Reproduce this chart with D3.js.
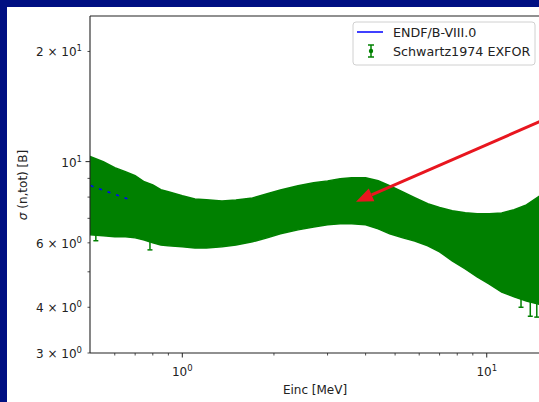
<!DOCTYPE html>
<html>
<head>
<meta charset="utf-8">
<script src="https://cdn.jsdelivr.net/npm/d3@7"></script>
<style>
  html, body { margin: 0; padding: 0; background: #000f82; }
  svg { display: block; }
  text { font-family: "DejaVu Sans", sans-serif; fill: #222; }
</style>
</head>
<body>
<svg id="chart" width="539" height="402"></svg>
<script>
// ---- Data ----
// Schwartz1974 EXFOR: incident energy (MeV), total cross section (b), uncertainty (b)
const exforE = [0.50, 0.55, 0.60, 0.65, 0.70, 0.75, 0.80, 0.85, 0.90, 1.0, 1.1, 1.2, 1.35, 1.5, 1.7, 1.9, 2.1, 2.4, 2.7, 3.0, 3.3, 3.6, 4.0, 4.4, 4.8, 5.3, 5.8, 6.4, 7.0, 7.7, 8.5, 9.3, 10.2, 11.2, 12.3, 13.5, 14.8];
const exforSigma = [8.31, 8.13, 7.93, 7.81, 7.67, 7.46, 7.32, 7.15, 7.08, 6.96, 6.86, 6.84, 6.83, 6.89, 7.00, 7.18, 7.36, 7.55, 7.69, 7.79, 7.87, 7.90, 7.88, 7.71, 7.47, 7.23, 7.02, 6.78, 6.58, 6.35, 6.17, 6.02, 5.92, 5.82, 5.83, 5.89, 6.05];
const exforErr = [2.00, 1.86, 1.70, 1.58, 1.48, 1.35, 1.32, 1.23, 1.19, 1.11, 1.05, 1.03, 0.98, 0.97, 0.96, 0.99, 1.01, 1.04, 1.06, 1.07, 1.11, 1.14, 1.16, 1.16, 1.12, 1.04, 0.95, 0.89, 0.91, 0.99, 1.08, 1.18, 1.29, 1.42, 1.56, 1.73, 1.97];
// individual, more scattered EXFOR points (energy, low, high)
const outlierE = [0.52, 0.783, 12.96, 13.9, 14.6];
const outlierLo = [6.08, 5.74, 4.0, 3.78, 3.76];
const outlierHi = [8.6, 7.9, 7.4, 7.5, 7.8];
// ENDF/B-VIII.0 evaluation
const endfE = [0.5, 0.55, 0.6, 0.65, 0.7, 0.8, 0.9, 1.0, 1.2, 1.5, 2.0, 2.5, 3.0, 3.6, 4.0, 5.0, 6.0, 7.0, 8.0, 9.0, 10.0, 11.0, 12.0, 13.0, 15.0];
const endfSigma = [8.6, 8.35, 8.15, 7.95, 7.8, 7.5, 7.25, 7.05, 6.85, 6.85, 7.1, 7.45, 7.7, 7.85, 7.8, 7.4, 6.95, 6.6, 6.35, 6.15, 6.05, 6.0, 5.95, 5.92, 5.95];
// ticks
const yLabeledTicks = [3, 4, 6, 10, 20];
const yLabelMant = ["3", "4", "6", "", "2"];
const yLabelExp = ["0", "0", "0", "1", "1"];
const yMinorTicks = [3, 4, 5, 6, 7, 8, 9, 20];
const yMajorTicks = [10];
const xMajorTicks = [1, 10];
const xMajorExp = ["0", "1"];
const xMinorTicks = [0.6, 0.7, 0.8, 0.9, 2, 3, 4, 5, 6, 7, 8, 9];
// annotation arrow: tip and tail in data units
const arrowTip = [3.72, 7.77];
const arrowTail = [20, 14.3];
const legendLabels = ["ENDF/B-VIII.0", "Schwartz1974 EXFOR"];

// ---- Layout ----
const svg = d3.select("#chart");
svg.append("rect").attr("x", 7).attr("y", 7).attr("width", 540).attr("height", 400).attr("fill", "#fff");

const L = 90, T = 16, B = 353, R = 540;
const x = d3.scaleLog().domain([0.4975, 14.96]).range([L, R]);
const y = d3.scaleLog().domain([3, 25]).range([B, T]);

const defs = svg.append("defs");
defs.append("clipPath").attr("id", "plotclip").append("rect")
  .attr("x", L).attr("y", T).attr("width", R - L).attr("height", B - T);
defs.append("clipPath").attr("id", "leftclip").append("rect")
  .attr("x", L).attr("y", T).attr("width", x(0.68) - L).attr("height", B - T);

const plot = svg.append("g").attr("clip-path", "url(#plotclip)");

const endfPts = endfE.map((e, i) => [e, endfSigma[i]]);
const lineGen = d3.line().x(d => x(d[0])).y(d => y(d[1]));
plot.append("path").attr("d", lineGen(endfPts))
  .attr("fill", "none").attr("stroke", "#0000ff").attr("stroke-width", 1.5);

const bandPts = exforE.map((e, i) => ({ e, lo: exforSigma[i] - exforErr[i], hi: exforSigma[i] + exforErr[i] }));
plot.append("path")
  .attr("d", d3.area().x(d => x(d.e)).y0(d => y(d.lo)).y1(d => y(d.hi))(bandPts))
  .attr("fill", "#008000").attr("stroke", "#008000").attr("stroke-width", 1.5)
  .attr("stroke-linejoin", "miter");

// scattered error bars
const eb = plot.append("g").attr("stroke", "#008000").attr("stroke-width", 1.5);
outlierE.forEach((e, i) => {
  const cx = x(e);
  eb.append("line").attr("x1", cx).attr("x2", cx).attr("y1", y(outlierLo[i])).attr("y2", y(outlierHi[i]));
  eb.append("line").attr("x1", cx - 2.5).attr("x2", cx + 2.5).attr("y1", y(outlierLo[i])).attr("y2", y(outlierLo[i]));
});

// ENDF peeking through gaps at low energy
svg.append("g").attr("clip-path", "url(#leftclip)")
  .append("path").attr("d", lineGen(endfPts))
  .attr("fill", "none").attr("stroke", "#0000ff").attr("stroke-width", 1.6)
  .attr("stroke-dasharray", "3,6");

// ---- Axes ----
const axisG = svg.append("g");
axisG.append("line").attr("x1", L).attr("x2", L).attr("y1", T).attr("y2", B).attr("stroke", "#222").attr("stroke-width", 1.1);
axisG.append("line").attr("x1", L).attr("x2", R).attr("y1", B).attr("y2", B).attr("stroke", "#222").attr("stroke-width", 1.1);
axisG.append("line").attr("x1", L).attr("x2", R).attr("y1", T).attr("y2", T).attr("stroke", "#222").attr("stroke-width", 1.1);

xMajorTicks.forEach((v, i) => {
  axisG.append("line").attr("x1", x(v)).attr("x2", x(v)).attr("y1", B).attr("y2", B + 4.5).attr("stroke", "#222");
  const t = axisG.append("text").attr("x", x(v)).attr("y", 376).attr("text-anchor", "middle").style("font-size", "12px");
  t.append("tspan").text("10");
  t.append("tspan").attr("dy", -5).style("font-size", "8.5px").text(xMajorExp[i]);
});
xMinorTicks.forEach(v => {
  axisG.append("line").attr("x1", x(v)).attr("x2", x(v)).attr("y1", B).attr("y2", B + 2.5).attr("stroke", "#222").attr("stroke-width", 0.8);
});
yMinorTicks.forEach(v => {
  axisG.append("line").attr("x1", L - 2.5).attr("x2", L).attr("y1", y(v)).attr("y2", y(v)).attr("stroke", "#222").attr("stroke-width", 0.8);
});
yMajorTicks.forEach(v => {
  axisG.append("line").attr("x1", L - 4.5).attr("x2", L).attr("y1", y(v)).attr("y2", y(v)).attr("stroke", "#222");
});
yLabeledTicks.forEach((v, i) => {
  const t = axisG.append("text").attr("x", 82).attr("y", y(v) + 5).attr("text-anchor", "end").style("font-size", "12px");
  t.append("tspan").text(yLabelMant[i] ? yLabelMant[i] + " \u00d7 10" : "10");
  t.append("tspan").attr("dy", -5).style("font-size", "8.5px").text(yLabelExp[i]);
});

svg.append("text").attr("x", 315).attr("y", 394).attr("text-anchor", "middle").style("font-size", "12px").text("Einc [MeV]");
svg.append("text").attr("transform", "translate(27,185) rotate(-90)").attr("text-anchor", "middle").style("font-size", "12px")
  .html('<tspan font-style="italic">\u03c3</tspan> (n,tot) [B]');

// ---- Arrow annotation ----
const tip = [x(arrowTip[0]), y(arrowTip[1])];
const tail = [x(arrowTail[0]), y(arrowTail[1])];
const ang = Math.atan2(tip[1] - tail[1], tip[0] - tail[0]);
const headLen = 17, headHalf = 7;
const base = [tip[0] - headLen * Math.cos(ang), tip[1] - headLen * Math.sin(ang)];
svg.append("line").attr("x1", tail[0]).attr("y1", tail[1]).attr("x2", base[0]).attr("y2", base[1])
  .attr("stroke", "#e8161f").attr("stroke-width", 3);
svg.append("polygon").attr("fill", "#e8161f").attr("points", [
  tip,
  [base[0] + headHalf * Math.sin(ang), base[1] - headHalf * Math.cos(ang)],
  [base[0] - headHalf * Math.sin(ang), base[1] + headHalf * Math.cos(ang)]
].map(p => p.join(",")).join(" "));

// ---- Legend ----
const lg = svg.append("g");
lg.append("rect").attr("x", 353).attr("y", 22).attr("width", 182).attr("height", 43).attr("rx", 3)
  .attr("fill", "#fff").attr("fill-opacity", 0.8).attr("stroke", "#d0d0d0");
lg.append("line").attr("x1", 357).attr("x2", 383).attr("y1", 32).attr("y2", 32).attr("stroke", "#0000ff").attr("stroke-width", 1.5);
lg.append("text").attr("x", 393).attr("y", 32).attr("dy", "0.36em").style("font-size", "12.7px").text(legendLabels[0]);
const ex = 371;
lg.append("line").attr("x1", ex).attr("x2", ex).attr("y1", 45).attr("y2", 57).attr("stroke", "#008000").attr("stroke-width", 1.5);
lg.append("line").attr("x1", ex - 3).attr("x2", ex + 3).attr("y1", 45).attr("y2", 45).attr("stroke", "#008000").attr("stroke-width", 1.5);
lg.append("line").attr("x1", ex - 3).attr("x2", ex + 3).attr("y1", 57).attr("y2", 57).attr("stroke", "#008000").attr("stroke-width", 1.5);
lg.append("circle").attr("cx", ex).attr("cy", 51).attr("r", 2.2).attr("fill", "#008000");
lg.append("text").attr("x", 393).attr("y", 51).attr("dy", "0.36em").style("font-size", "12.7px").text(legendLabels[1]);
</script>
</body>
</html>
